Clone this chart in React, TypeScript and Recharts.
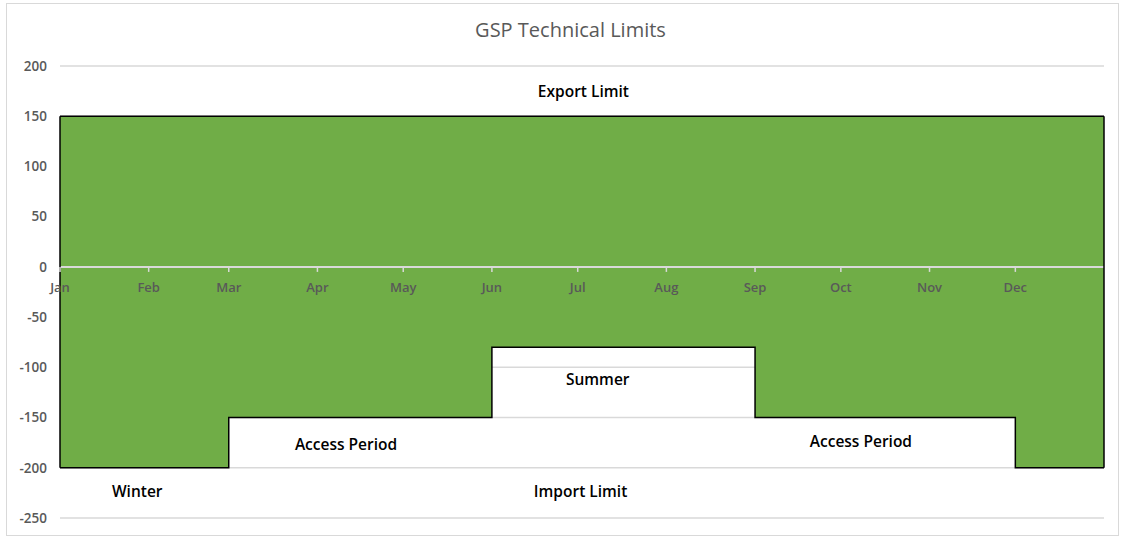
import React from "react";
import {
  ComposedChart,
  Area,
  XAxis,
  YAxis,
  CartesianGrid,
  ReferenceLine,
  ReferenceDot,
} from "recharts";

// step breakpoints, in day of year (Jan 1 = 0)
const breakDays = [0, 59, 151, 243, 334, 365];
const importLimit = [-200, -150, -80, -150, -200, -200];
const exportLimit = [150, 150, 150, 150, 150, 150];

const monthLabels = ["Jan", "Feb", "Mar", "Apr", "May", "Jun", "Jul", "Aug", "Sep", "Oct", "Nov", "Dec"];
const monthStartDays = [0, 31, 59, 90, 120, 151, 181, 212, 243, 273, 304, 334];
const yTicks = [-250, -200, -150, -100, -50, 0, 50, 100, 150, 200];

const noteTexts = ["Export Limit", "Summer", "Access Period", "Access Period", "Winter", "Import Limit"];
const noteDays = [183, 188, 100, 280, 27, 182];
const noteValues = [175, -112, -176, -173, -223, -223];

const data = breakDays.map((day, i) => ({
  day,
  limits: [importLimit[i], exportLimit[i]],
}));

const FONT = "'Open Sans', Lato, sans-serif";
const last = breakDays.length - 1;

export default function App() {
  return (
    <div style={{ position: "absolute", left: 0, top: 0, width: 1122, height: 537, background: "#fff" }}>
      <div
        style={{
          position: "absolute",
          left: 6,
          top: 3,
          width: 1111,
          height: 531,
          border: "1px solid #d9d9d9",
        }}
      />
      <div
        style={{
          position: "absolute",
          left: 0,
          top: 17,
          width: 1141,
          textAlign: "center",
          fontFamily: FONT,
          fontSize: 20,
          lineHeight: "26px",
          color: "#595959",
        }}
      >
        GSP Technical Limits
      </div>
      <div style={{ position: "absolute", left: 0, top: 0 }}>
        <ComposedChart
          width={1122}
          height={537}
          data={data}
          margin={{ top: 66, right: 18, bottom: 19, left: 10 }}
        >
          <CartesianGrid vertical={false} stroke="#d9d9d9" strokeWidth={1.5} />
          <XAxis type="number" dataKey="day" domain={[0, 365]} hide />
          <YAxis
            type="number"
            domain={[-250, 200]}
            ticks={yTicks}
            width={50}
            axisLine={false}
            tickLine={false}
            tickMargin={7}
            tick={{ fontFamily: FONT, fontSize: 13.5, fontWeight: 600, fill: "#595959" }}
          />
          <Area
            type="stepAfter"
            dataKey="limits"
            fill="#70ad47"
            fillOpacity={1}
            stroke="#000"
            strokeWidth={1.5}
            isAnimationActive={false}
          />
          <ReferenceLine y={0} stroke="#d9d9d9" strokeWidth={2} />
          <ReferenceLine
            segment={[
              { x: breakDays[0], y: importLimit[0] },
              { x: breakDays[0], y: exportLimit[0] },
            ]}
            stroke="#000"
            strokeWidth={1.5}
          />
          <ReferenceLine
            segment={[
              { x: breakDays[last], y: importLimit[last] },
              { x: breakDays[last], y: exportLimit[last] },
            ]}
            stroke="#000"
            strokeWidth={1.5}
          />
          {monthStartDays.map((d, i) => (
            <ReferenceDot
              key={"m" + i}
              x={d}
              y={0}
              r={0}
              shape={(p: any) => (
                <g>
                  <line x1={p.cx} y1={p.cy} x2={p.cx} y2={p.cy + 5} stroke="#d9d9d9" strokeWidth={1.5} />
                  <text
                    x={p.cx}
                    y={p.cy + 20}
                    textAnchor="middle"
                    dominantBaseline="central"
                    fontFamily={FONT}
                    fontSize={13}
                    fontWeight={600}
                    fill="#595959"
                  >
                    {monthLabels[i]}
                  </text>
                </g>
              )}
            />
          ))}
          {noteTexts.map((t, i) => (
            <ReferenceDot
              key={"n" + i}
              x={noteDays[i]}
              y={noteValues[i]}
              r={0}
              shape={(p: any) => (
                <text
                  x={p.cx}
                  y={p.cy}
                  textAnchor="middle"
                  dominantBaseline="central"
                  fontFamily={FONT}
                  fontSize={15.5}
                  fontWeight={600}
                  fill="#000"
                >
                  {t}
                </text>
              )}
            />
          ))}
        </ComposedChart>
      </div>
    </div>
  );
}
